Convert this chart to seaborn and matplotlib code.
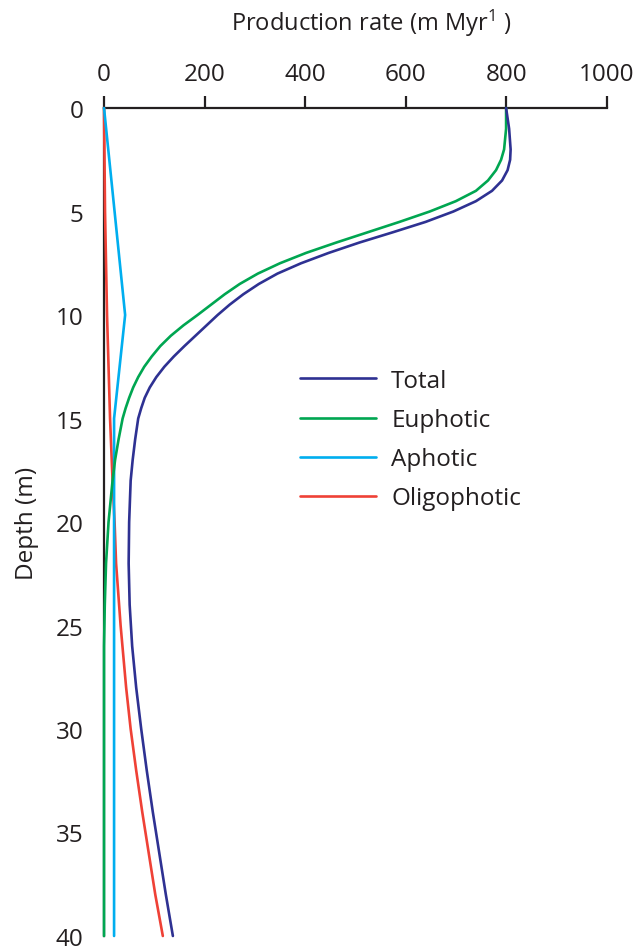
import numpy as np
import pandas as pd
import matplotlib
matplotlib.use("Agg")
import matplotlib.pyplot as plt
from matplotlib.lines import Line2D
import seaborn as sns

# ---- data ----
series_names = ["Total", "Euphotic", "Aphotic", "Oligophotic"]
series_colors = ["#2e3192", "#00a651", "#00aeef", "#ef4136"]

total_depth = [0, 1, 2, 2.5, 3, 3.5, 4, 4.5, 5, 5.5, 6, 6.5, 7, 7.5, 8, 8.5, 9, 9.5, 10,
               10.5, 11, 11.5, 12, 12.5, 13, 13.5, 14, 14.5, 15, 16, 17, 18, 20, 22, 24, 26,
               28, 30, 32, 34, 36, 38, 40]
total_rate = [800, 806, 809, 808, 803, 792, 772, 740, 695, 640, 575, 508, 447, 392, 345, 308, 277, 250, 226,
              204, 182, 160, 139, 120, 104, 91, 81, 74, 68, 62, 57, 53, 50, 49, 51, 56,
              64, 74, 85, 97, 110, 123, 137]

euphotic_depth = [0, 1, 2, 2.5, 3, 3.5, 4, 4.5, 5, 5.5, 6, 6.5, 7, 7.5, 8, 8.5, 9, 9.5, 10,
                  10.5, 11, 11.5, 12, 12.5, 13, 13.5, 14, 14.5, 15, 16, 17, 18, 20, 22, 24, 26,
                  28, 30, 32, 34, 36, 38, 40]
euphotic_rate = [800, 800, 796, 790, 780, 764, 740, 700, 648, 588, 525, 462, 402, 350, 306, 270, 240, 213, 186,
                 158, 133, 112, 95, 80, 68, 58, 50, 43, 37, 29, 22, 17, 9, 4, 1.5, 0,
                 0, 0, 0, 0, 0, 0, 0]

aphotic_depth = [0, 10, 15, 40]
aphotic_rate = [0, 42, 20, 20]

oligo_depth = [0, 5, 10, 15, 18, 20, 22, 25, 28, 30, 32, 34, 36, 38, 40]
oligo_rate = [0, 2, 6, 12, 17, 21, 24, 33, 44, 53, 64, 76, 89, 102, 117]

x_ticks = [0, 200, 400, 600, 800, 1000]
y_ticks = [0, 5, 10, 15, 20, 25, 30, 35, 40]

# ---- build long table ----
frames = []
for name, d, r in [("Total", total_depth, total_rate),
                   ("Euphotic", euphotic_depth, euphotic_rate),
                   ("Aphotic", aphotic_depth, aphotic_rate),
                   ("Oligophotic", oligo_depth, oligo_rate)]:
    frames.append(pd.DataFrame({"depth": d, "rate": r, "series": name}))
df = pd.concat(frames, ignore_index=True)

sns.set_style("white")
plt.rcParams["font.family"] = ["Open Sans", "DejaVu Sans"]
plt.rcParams["mathtext.fontset"] = "custom"
plt.rcParams["mathtext.rm"] = "Open Sans"
plt.rcParams["mathtext.default"] = "regular"
ink = "#231f20"
fs = 17.5

fig = plt.figure(figsize=(6.37, 9.53), dpi=100)
ax = fig.add_axes([0.1633, 0.0168, 0.789, 0.8688])

palette = dict(zip(series_names, series_colors))
draw_order = ["Oligophotic", "Aphotic", "Euphotic", "Total"]
sns.lineplot(data=df, x="rate", y="depth", hue="series", hue_order=draw_order,
             palette=palette, sort=False, estimator=None, orient="y",
             linewidth=1.9, legend=False, ax=ax)
for ln in ax.lines:
    ln.set_clip_on(False)
    ln.set_zorder(3)
    ln.set_solid_joinstyle("round")

ax.set_xlim(0, 1000)
ax.set_ylim(40, 0)
ax.set_xticks(x_ticks)
ax.set_yticks(y_ticks)
ax.xaxis.tick_top()
ax.xaxis.set_label_position("top")
for s in ["right", "bottom"]:
    ax.spines[s].set_visible(False)
for s in ["top", "left"]:
    ax.spines[s].set_color(ink)
    ax.spines[s].set_linewidth(1.6)
ax.tick_params(axis="both", direction="out", length=9, width=1.6, color=ink,
               labelsize=fs, labelcolor=ink)
ax.tick_params(axis="x", pad=7)
ax.tick_params(axis="y", pad=6)
ax.set_xlabel("Production rate (m Myr$^{1}$ )", fontsize=17, color=ink)
ax.xaxis.set_label_coords(0.531, 1.0 + 78 / 828.0)
ax.set_ylabel("Depth (m)", fontsize=fs, color=ink, labelpad=12)

handles = [Line2D([0], [0], color=c, lw=1.9) for c in series_colors]
ax.legend(handles, series_names, loc="upper left", bbox_to_anchor=(0.471, 0.6118),
          bbox_transform=fig.transFigure, frameon=False, fontsize=fs,
          handlelength=3.13, handletextpad=0.62, labelspacing=0.62, borderpad=0,
          borderaxespad=0, labelcolor=ink)

fig.savefig("out.png", dpi=100)
